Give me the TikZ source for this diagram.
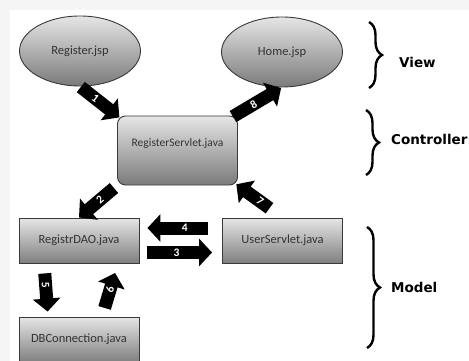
\documentclass[tikz,border=0pt]{standalone}
\usepackage{fontspec}
\setmainfont{Carlito}
\newfontfamily\labfont{DejaVu Sans}
\usetikzlibrary{arrows.meta,decorations.pathreplacing,calc,shapes.geometric}
\definecolor{txt}{HTML}{333333}
\definecolor{edge}{HTML}{3A3A3A}
\definecolor{margin}{HTML}{F5F5F5}
\tikzset{
  ellnode/.style={ellipse, draw=edge, line width=0.9pt, top color=black!10, bottom color=black!52,
    minimum width=121pt, minimum height=70pt, inner sep=0pt, text=txt,
    font=\fontsize{12.5}{14}\selectfont},
  boxnode/.style={rectangle, draw=edge, line width=0.9pt, top color=black!10, bottom color=black!50,
    minimum width=120pt, minimum height=45pt, inner sep=0pt, text=txt,
    font=\fontsize{12.5}{14}\selectfont},
  srvnode/.style={rectangle, rounded corners=8pt, draw=edge, line width=0.9pt, top color=black!10,
    bottom color=black!52, minimum width=120pt, minimum height=69pt, inner sep=0pt},
  blk/.style={draw=black, line width=13pt, -{Triangle[length=13pt,width=27pt]}},
  num/.style={sloped, text=white, inner sep=0pt, font=\fontsize{11.5}{11.5}\selectfont\bfseries},
  brc/.style={decorate, decoration={brace, amplitude=13pt}, line width=2.4pt, draw=black},
  lab/.style={anchor=west, inner sep=0pt, font=\labfont\bfseries\fontsize{13.5}{15}\selectfont}
}
\begin{document}
\begin{tikzpicture}[x=1pt,y=-1pt]
\useasboundingbox (0,0) rectangle (469,361);
\fill[margin] (0,0) rectangle (469,361);
\fill[white] (10,10) rectangle (469,361);
\begin{scope}
\clip (0,0) rectangle (469,361);
% nodes
\node[ellnode] (reg) at (80,51) {Register.jsp};
\node[ellnode] (home) at (282,52) {Home.jsp};
\node[srvnode] (srv) at (177.5,150.5) {};
\node[text=txt, inner sep=0pt, font=\fontsize{11.5}{13}\selectfont] (srvt) at ($(srv.center)+(0,-7)$) {RegisterServlet.java};
\node[boxnode] (dao) at (79,240.5) {RegistrDAO.java};
\node[boxnode] (user) at (282.5,240.5) {UserServlet.java};
\node[boxnode] (db) at (79,339.5) {DBConnection.java};
% arrows
\draw[blk, shorten <=1pt, shorten >=-3pt] (reg.south) -- node[num, pos=0.42] {1} (srv.north west);
\draw[blk, shorten <=0pt, shorten >=1pt] ($(srv.north east)+(-5,1)$) -- node[num, pos=0.42] {8} (home.south);
\draw[blk, shorten <=4pt, shorten >=0pt] (srv.south west) -- node[num, pos=0.45] {2} (dao.north);
\draw[blk, shorten <=16pt, shorten >=-2pt] (user.north) -- node[num, pos=0.5] {7} (srv.south east);
\draw[blk, shorten <=14pt, shorten >=8pt] ($(user.west)+(0,-12.5)$) -- node[num, pos=0.45] {4} ($(dao.east)+(0,-12.5)$);
\draw[blk, shorten <=8pt, shorten >=10pt] ($(dao.east)+(0,12)$) -- node[num, pos=0.45] {3} ($(user.west)+(0,12)$);
\draw[blk, shorten <=10pt, shorten >=5pt] ($(dao.south)+(-35,0)$) -- node[num, pos=0.4] {5} ($(db.north)+(-31,0)$);
\draw[blk, shorten <=9pt, shorten >=10pt] ($(db.north)+(23,0)$) -- node[num, pos=0.5] {6} ($(dao.south)+(39,0)$);
% braces
\draw[brc] (369,22) -- (369,88);
\draw[brc] (366,110) -- (366,175);
\draw[brc] (367,227) -- (367,348);
\node[lab] (view) at (399,62) {View};
\node[lab] (ctrl) at (391,139) {Controller};
\node[lab] (model) at (391,287) {Model};
\end{scope}
\end{tikzpicture}
\end{document}
